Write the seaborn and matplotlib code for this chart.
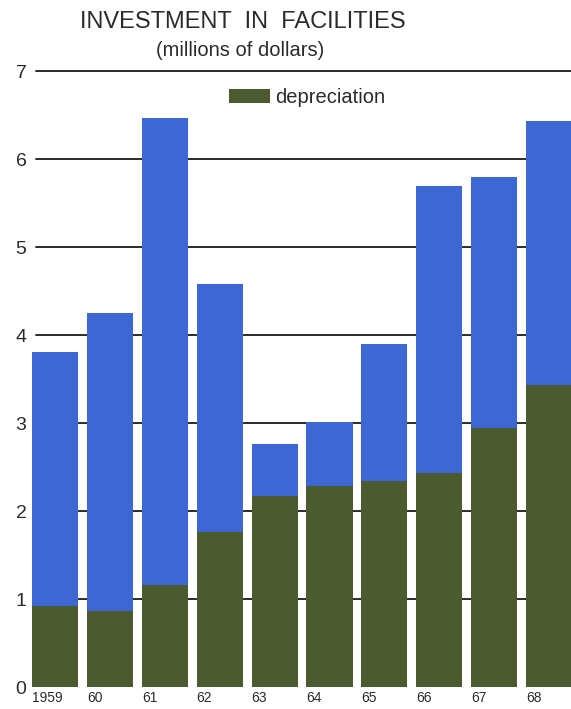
import numpy as np
import pandas as pd
import matplotlib
matplotlib.use("Agg")
import matplotlib.pyplot as plt
import seaborn as sns
from matplotlib.patches import Patch

# Investment in facilities, millions of dollars
years = ["1959", "60", "61", "62", "63", "64", "65", "66", "67", "68"]
total_investment = [3.81, 4.25, 6.47, 4.58, 2.76, 3.01, 3.90, 5.69, 5.80, 6.43]
depreciation = [0.92, 0.86, 1.16, 1.76, 2.17, 2.28, 2.34, 2.43, 2.94, 3.43]
y_ticks = [0, 1, 2, 3, 4, 5, 6, 7]

BLUE = "#3d68d4"
GREEN = "#4b5a2f"
INK = "#2b2b2b"

sns.set_theme(style="white")
plt.rcParams["font.family"] = ["Liberation Sans", "DejaVu Sans"]

df = pd.DataFrame({"year": years, "total": total_investment, "dep": depreciation})

fig = plt.figure(figsize=(5.71, 7.09), dpi=100)
ax = fig.add_axes([32 / 571, 22 / 709, 539 / 571, 616 / 709])

bar_w = 0.84
sns.barplot(data=df, x="year", y="total", color=BLUE, saturation=1,
            width=bar_w, ax=ax, zorder=2, linewidth=0, edgecolor="none")
sns.barplot(data=df, x="year", y="dep", color=GREEN, saturation=1,
            width=bar_w, ax=ax, zorder=3, linewidth=0, edgecolor="none")

ax.set_ylim(0, 7)
ax.set_xlim(-0.42, 9.4)
ax.set_xlabel("")
ax.set_ylabel("")
for s in ax.spines.values():
    s.set_visible(False)

# horizontal rules behind the bars
for t in y_ticks[1:]:
    ax.axhline(t, xmin=0.008, color=INK, lw=1.4, zorder=1, clip_on=False)

ax.set_yticks(y_ticks)
ax.set_yticklabels([str(t) for t in y_ticks], fontsize=14, color=INK)
ax.tick_params(axis="y", length=0, pad=4)

# year labels flush with the left edge of each bar
ax.set_xticks(np.arange(len(years)) - bar_w / 2)
ax.set_xticklabels(years, fontsize=10, color=INK, ha="left")
ax.tick_params(axis="x", length=0, pad=3)

fig.text(243 / 571, 1 - 22 / 709, "INVESTMENT  IN  FACILITIES", ha="center",
         va="center", fontsize=17, color=INK)
fig.text(240 / 571, 1 - 50 / 709, "(millions of dollars)", ha="center",
         va="center", fontsize=14.5, color=INK)

ax.legend(handles=[Patch(facecolor=GREEN, edgecolor="none", label="depreciation")],
          loc="upper left", bbox_to_anchor=(197 / 539, 1 - 17 / 616),
          frameon=False, fontsize=14.5, handlelength=2.05, handleheight=0.65,
          handletextpad=0.25, borderpad=0, borderaxespad=0,
          labelcolor=INK)

fig.savefig("out.png", dpi=100)
